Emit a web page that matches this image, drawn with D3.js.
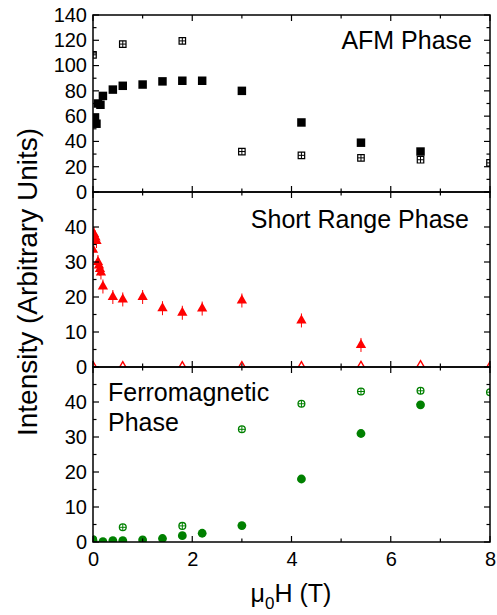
<!DOCTYPE html>
<html><head><meta charset="utf-8">
<script src="https://cdn.jsdelivr.net/npm/d3@7"></script>
<style>
html,body{margin:0;padding:0;background:#fff;}
svg text{font-family:"Liberation Sans",Arial,sans-serif;fill:#000;}
</style></head>
<body><svg id="chart" width="497" height="615"></svg>
<script>
// ---- data ----
const xTicks = [0, 2, 4, 6, 8];
const afmTicks = [0, 20, 40, 60, 80, 100, 120, 140];
const lowTicks = [0, 10, 20, 30, 40];

const afmField = [0, 0.04, 0.07, 0.1, 0.15, 0.2, 0.4, 0.6, 1.0, 1.4, 1.8, 2.2, 3.0, 4.2, 5.4, 6.6];
const afmFilled = [57, 59, 54, 70, 69, 76, 81, 84, 85, 87.5, 88, 88, 80, 55, 39, 32];
const afmOpenField = [0, 0.6, 1.8, 3.0, 4.2, 5.4, 6.6, 8];
const afmOpen = [108.5, 117, 119.5, 32, 29, 27, 25.5, 23];

const srField = [0, 0.02, 0.05, 0.07, 0.1, 0.12, 0.14, 0.16, 0.2, 0.4, 0.6, 1.0, 1.4, 1.8, 2.2, 3.0, 4.2, 5.4];
const srFilled = [33.5, 38, 37, 36, 30, 29, 28, 27, 23, 20, 19.3, 20, 16.8, 15.5, 16.7, 19, 13.3, 6.3];
const srOpenField = [0, 0.6, 1.8, 3.0, 4.2, 5.4, 6.6, 8];
const srOpen = [0.3, 0.2, 0.2, 0.2, 0.2, 0.3, 0.5, 0.2];

const fmField = [0, 0.2, 0.4, 0.6, 1.0, 1.4, 1.8, 2.2, 3.0, 4.2, 5.4, 6.6];
const fmFilled = [0.5, 0.1, 0.4, 0.4, 0.6, 1.0, 1.8, 2.5, 4.7, 18, 31, 39.2];
const fmOpenField = [0, 0.6, 1.8, 3.0, 4.2, 5.4, 6.6, 8];
const fmOpen = [0.8, 4.2, 4.6, 32.2, 39.5, 43, 43.2, 42.8];

// ---- layout ----
const svg = d3.select("#chart");
const L = 93, R = 490;
const x = d3.scaleLinear().domain([0, 8]).range([L, R]);
const panels = [
  {top: 15, bottom: 192, dom: [0, 140], major: afmTicks, minorStep: 10, id: "p0"},
  {top: 192, bottom: 367, dom: [0, 50], major: lowTicks, minorStep: 5, id: "p1"},
  {top: 367, bottom: 542, dom: [0, 50], major: lowTicks, minorStep: 5, id: "p2"}
];
panels.forEach(p => { p.y = d3.scaleLinear().domain(p.dom).range([p.bottom, p.top]); });

const defs = svg.append("defs");
panels.forEach(p => {
  defs.append("clipPath").attr("id", "clip-" + p.id)
    .append("rect").attr("x", L).attr("y", p.top).attr("width", R - L).attr("height", p.bottom - p.top);
});

function zip(a, b) { return a.map((v, i) => [v, b[i]]); }

function drawFrame(p, showX) {
  const g = svg.append("g");
  const xMinor = d3.range(0, 8.01, 1);
  const yMinor = d3.range(p.dom[0], p.dom[1] + 0.01, p.minorStep);
  const tick = (x1, y1, x2, y2) => g.append("line").attr("x1", x1).attr("y1", y1).attr("x2", x2).attr("y2", y2)
      .attr("stroke", "#000").attr("stroke-width", 1.2);
  xMinor.forEach(v => {
    const len = (v % 2 === 0) ? 6 : 3.5;
    tick(x(v), p.bottom, x(v), p.bottom - len);
    tick(x(v), p.top, x(v), p.top + len);
  });
  yMinor.forEach(v => {
    const len = (v % (p.minorStep * 2) === 0) ? 6 : 3.5;
    tick(L, p.y(v), L + len, p.y(v));
    tick(R, p.y(v), R - len, p.y(v));
  });
  g.append("rect").attr("x", L).attr("y", p.top).attr("width", R - L).attr("height", p.bottom - p.top)
    .attr("fill", "none").attr("stroke", "#000").attr("stroke-width", 1.5);
  const yAxis = d3.axisLeft(p.y).tickValues(p.major).tickSize(0).tickPadding(6);
  const ya = svg.append("g").attr("transform", `translate(${L},0)`).call(yAxis);
  ya.select(".domain").remove();
  ya.selectAll("text").style("font-size", "20px").style("font-family", "'Liberation Sans', Arial, sans-serif");
  if (showX) {
    const xAxis = d3.axisBottom(x).tickValues(xTicks).tickSize(0).tickPadding(10);
    const xa = svg.append("g").attr("transform", `translate(0,${p.bottom})`).call(xAxis);
    xa.select(".domain").remove();
    xa.selectAll("text").style("font-size", "20px").style("font-family", "'Liberation Sans', Arial, sans-serif");
  }
}

function plusMarks(g, data, p, h, color) {
  g.selectAll(null).data(data).enter().append("path")
    .attr("d", d => `M${x(d[0]) - h},${p.y(d[1])}H${x(d[0]) + h}M${x(d[0])},${p.y(d[1]) - h}V${p.y(d[1]) + h}`)
    .attr("stroke", color).attr("stroke-width", 1).attr("fill", "none");
}

// ---- panel 0: AFM ----
(function () {
  const p = panels[0];
  const g = svg.append("g").attr("clip-path", "url(#clip-p0)");
  g.selectAll(null).data(zip(afmOpenField, afmOpen)).enter().append("path")
    .attr("d", d3.symbol(d3.symbolSquare, 42))
    .attr("transform", d => `translate(${x(d[0])},${p.y(d[1])})`)
    .attr("fill", "#fff").attr("stroke", "#000").attr("stroke-width", 1.2);
  plusMarks(g, zip(afmOpenField, afmOpen), p, 3.2, "#000");
  g.selectAll(null).data(zip(afmField, afmFilled)).enter().append("path")
    .attr("d", d3.symbol(d3.symbolSquare, 72))
    .attr("transform", d => `translate(${x(d[0])},${p.y(d[1])})`)
    .attr("fill", "#000");
})();

// ---- panel 1: short range ----
(function () {
  const p = panels[1];
  const g = svg.append("g").attr("clip-path", "url(#clip-p1)");
  const red = "#ff0000";
  g.selectAll(null).data(zip(srOpenField, srOpen)).enter().append("path")
    .attr("d", d3.symbol(d3.symbolTriangle, 28))
    .attr("transform", d => `translate(${x(d[0])},${p.y(d[1])})`)
    .attr("fill", "#fff").attr("stroke", red).attr("stroke-width", 1.4);
  const sr = zip(srField, srFilled);
  g.selectAll(null).data(sr).enter().append("line")
    .attr("x1", d => x(d[0])).attr("x2", d => x(d[0]))
    .attr("y1", d => p.y(d[1] - 2)).attr("y2", d => p.y(d[1] + 2))
    .attr("stroke", red).attr("stroke-width", 1);
  g.selectAll(null).data(sr).enter().append("path")
    .attr("d", d3.symbol(d3.symbolTriangle, 46))
    .attr("transform", d => `translate(${x(d[0])},${p.y(d[1])})`)
    .attr("fill", red);
})();

// ---- panel 2: ferromagnetic ----
(function () {
  const p = panels[2];
  const g = svg.append("g").attr("clip-path", "url(#clip-p2)");
  const green = "#008000";
  const fo = zip(fmOpenField, fmOpen);
  g.selectAll(null).data(fo).enter().append("circle")
    .attr("cx", d => x(d[0])).attr("cy", d => p.y(d[1])).attr("r", 3.4)
    .attr("fill", "#fff").attr("stroke", green).attr("stroke-width", 1.3);
  plusMarks(g, fo, p, 3.4, green);
  g.selectAll(null).data(zip(fmField, fmFilled)).enter().append("circle")
    .attr("cx", d => x(d[0])).attr("cy", d => p.y(d[1])).attr("r", 4.4)
    .attr("fill", green);
})();

panels.forEach((p, i) => drawFrame(p, i === 2));

// ---- titles ----
svg.append("text").attr("x", 472).attr("y", 49).attr("text-anchor", "end")
  .style("font-size", "25px").text("AFM Phase");
svg.append("text").attr("x", 469).attr("y", 228).attr("text-anchor", "end")
  .style("font-size", "25px").text("Short Range Phase");
svg.append("text").attr("x", 108).attr("y", 401)
  .style("font-size", "25px").text("Ferromagnetic");
svg.append("text").attr("x", 108).attr("y", 431)
  .style("font-size", "25px").text("Phase");

// ---- axis titles ----
svg.append("text").attr("transform", "translate(37,282) rotate(-90)").attr("text-anchor", "middle")
  .style("font-size", "28px").text("Intensity (Arbitrary Units)");
const xl = svg.append("text").attr("x", 291).attr("y", 602).attr("text-anchor", "middle").style("font-size", "25px");
xl.append("tspan").text("\u03bc");
xl.append("tspan").attr("dy", 7).style("font-size", "17px").text("0");
xl.append("tspan").attr("dy", -7).text("H (T)");
</script></body></html>
